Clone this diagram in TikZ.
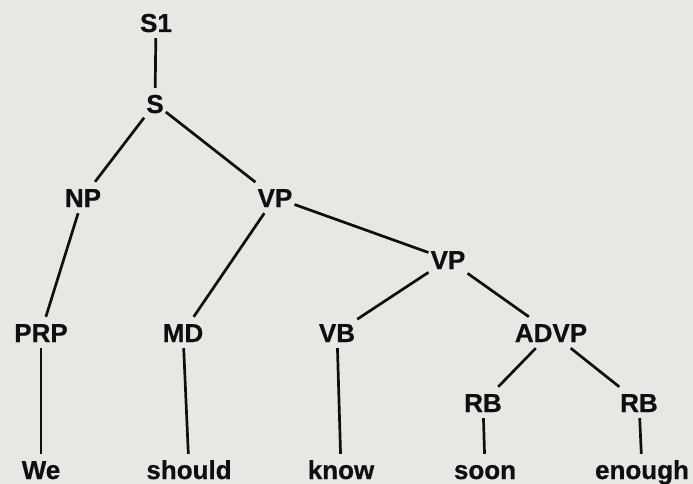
\documentclass[tikz,border=0pt]{standalone}
\usepackage{fontspec}
\setmainfont{Liberation Sans}[BoldFeatures={FakeBold=0.6}]
\definecolor{paper}{RGB}{231,231,228}
\definecolor{ink}{RGB}{15,15,15}
\begin{document}
\begin{tikzpicture}[x=1pt,y=-1pt,
  lbl/.style={font=\fontsize{26}{28}\selectfont\bfseries, text=ink, anchor=base,
              text height=19pt, text depth=0pt, inner xsep=2pt, inner ysep=6pt},
  edge/.style={draw=ink, line width=2.7pt}]
% paper background and fixed page size
\fill[paper] (0,0) rectangle (693,484);
\useasboundingbox (0,0) rectangle (693,484);

% phrase-structure nodes (positions are text baselines)
\node[lbl] (s1)    at (156,32)  {S1};
\node[lbl] (s)     at (155,113) {S};
\node[lbl] (np)    at (83,207)  {NP};
\node[lbl] (vp)    at (275,207) {VP};
\node[lbl] (vpb)   at (448,269) {VP};
\node[lbl] (prp)   at (41,342)  {PRP};
\node[lbl] (md)    at (183,342) {MD};
\node[lbl] (vb)    at (337,342) {VB};
\node[lbl] (advp)  at (551,342) {ADVP};
\node[lbl] (rba)   at (483,412) {RB};
\node[lbl] (rbb)   at (639,412) {RB};

% words
\node[lbl] (we)     at (41,479)  {We};
\node[lbl] (should) at (189,479) {should};
\node[lbl] (know)   at (341,479) {know};
\node[lbl] (soon)   at (485,479) {soon};
\node[lbl] (enough) at (642,479) {enough};

% branches
\draw[edge] (s1) -- (s);
\draw[edge] (s) -- (np);
\draw[edge] (s) -- (vp);
\draw[edge] (np) -- (prp);
\draw[edge] (vp) -- (md);
\draw[edge] (vp) -- (vpb);
\draw[edge] (vpb) -- (vb);
\draw[edge] (vpb) -- (advp);
\draw[edge] (advp) -- (rba);
\draw[edge] (advp) -- (rbb);
\draw[edge] (prp) -- (we);
\draw[edge] (md) -- (should);
\draw[edge] (vb) -- (know);
\draw[edge] (rba) -- (soon);
\draw[edge] (rbb) -- (enough);
\end{tikzpicture}
\end{document}
